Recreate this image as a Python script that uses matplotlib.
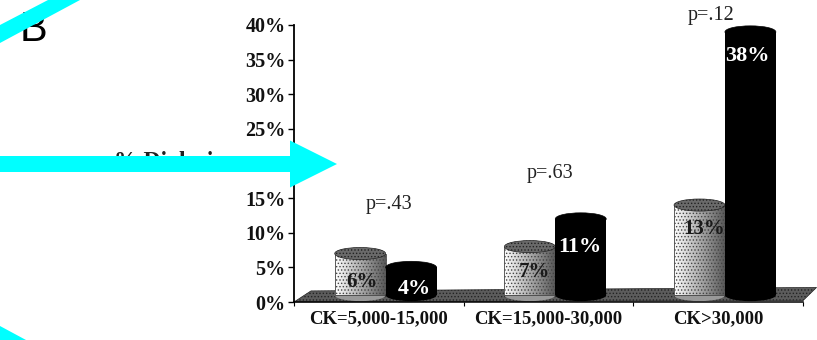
#!/usr/bin/env python3
import matplotlib
matplotlib.use('Agg')
import matplotlib.pyplot as plt
import numpy as np
from matplotlib.patches import Ellipse, Polygon, FancyArrow

categories = ['CK=5,000-15,000', 'CK=15,000-30,000', 'CK>30,000']
light_vals = [6, 7, 13]
dark_vals = [4, 11, 38]
p_labels = ['p=.43', 'p=.63', 'p=.12']
y_ticks = [0, 5, 10, 15, 20, 25, 30, 35, 40]

# where the printed labels sit, in axis units
light_label_y = [2.9, 4.3, 10.6]
dark_label_y = [1.9, 8.0, 35.5]
light_label_x = [0.40, 1.415, 2.42]
dark_label_x = [0.707, 1.685, 2.675]
p_label_y = [14.1, 18.5, 41.3]
p_label_x = [0.56, 1.51, 2.46]

W, H = 817, 340
bar_w = 0.3
cap_h = 1.75
base = 1.0

plt.rcParams['font.family'] = ['Liberation Serif', 'DejaVu Serif']
plt.rcParams['hatch.linewidth'] = 0.6

fig = plt.figure(figsize=(W / 100, H / 100), dpi=100)
ax = fig.add_axes([294 / W, 1 - 302 / H, (803 - 294) / W, (302 - 25) / H])
ax.set_xlim(0, 3)
ax.set_ylim(0, 40)
ax.patch.set_alpha(0)

for s in ['top', 'right']:
    ax.spines[s].set_visible(False)
ax.spines['left'].set_linewidth(1.3)
ax.spines['bottom'].set_linewidth(1.1)

ax.set_yticks(y_ticks)
ax.set_yticklabels(['%d%%' % v for v in y_ticks], fontsize=14.5, fontweight='bold', color='#111111')
ax.tick_params(axis='y', length=4, width=1, pad=2)
ax.set_xticks([0, 1, 2, 3])
ax.set_xticklabels([])
ax.tick_params(axis='x', which='major', length=3, width=0.8)
ax.set_xticks([0.5, 1.5, 2.5], minor=True)
ax.set_xticklabels(categories, minor=True, fontsize=13.5, fontweight='bold', color='#111111')
ax.tick_params(axis='x', which='minor', length=0, pad=6)

# floor of the 3d chart
floor = Polygon([(0, 0), (0.1, 1.6), (3.08, 2.1), (3.0, 0.2)], closed=True, clip_on=False,
                facecolor='#5c5c5c', edgecolor='#222222', hatch='.....', linewidth=0.5, zorder=1)
ax.add_patch(floor)

shade = np.linspace(1.0, 0.35, 64).reshape(1, -1)


def cylinder(x, val, dark, z):
    left = x - bar_w / 2
    col = 'black' if dark else '#6a6a6a'
    ax.add_patch(Ellipse((x, base), bar_w, cap_h, facecolor=col if dark else '#999999',
                         edgecolor='none', clip_on=False, zorder=z))
    bars = ax.bar(x, val, bar_w, bottom=base, color='black', zorder=z, clip_on=False, linewidth=0)
    if not dark:
        im = ax.imshow(shade, extent=(left, left + bar_w, base, base + val), aspect='auto',
                       cmap='gray', vmin=0, vmax=1, zorder=z + 0.1)
        im.set_clip_path(bars[0])
        ax.bar(x, val, bar_w, bottom=base, facecolor='none', edgecolor='#444444', hatch='.....',
               linewidth=0.6, zorder=z + 0.2, clip_on=False)
    ax.add_patch(Ellipse((x, base + val), bar_w, cap_h, facecolor=col, edgecolor='#222222' if not dark else 'black',
                         hatch=None if dark else '.....', linewidth=0.5, clip_on=False, zorder=z + 0.3))


for i in range(3):
    xc = i + 0.54
    cylinder(xc - bar_w / 2, light_vals[i], False, 2)
    ax.text(light_label_x[i], light_label_y[i], '%d%%' % light_vals[i], ha='center', va='center',
            fontsize=15, fontweight='bold', color='#1a1a1a', zorder=3)
    cylinder(xc + bar_w / 2, dark_vals[i], True, 4)
    ax.text(dark_label_x[i], dark_label_y[i], '%d%%' % dark_vals[i], ha='center', va='center',
            fontsize=16, fontweight='bold', color='white', zorder=5)
    ax.text(p_label_x[i], p_label_y[i], p_labels[i], ha='center', va='center',
            fontsize=14.5, color='#222222', clip_on=False, zorder=5)

ax.set_xlim(0, 3)
ax.set_ylim(0, 40)

# overlay in pixel coordinates: panel letter, axis title and the cyan arrows on top
ov = fig.add_axes([0, 0, 1, 1])
ov.set_xlim(0, W)
ov.set_ylim(H, 0)
ov.axis('off')
ov.patch.set_alpha(0)
ov.text(20, 41, 'B', fontsize=30, family='Liberation Sans', color='black', va='baseline', ha='left')
ov.text(168, 167, '% Dialysis', fontsize=17, fontweight='bold', color='#222222', va='baseline', ha='center')

cyan = '#00ffff'
ov.add_patch(FancyArrow(0, 164, 337, 0, width=16, head_width=47, head_length=47,
                        length_includes_head=True, color=cyan, linewidth=0, zorder=10))
ov.add_patch(Polygon([(0, 25), (48, 0), (80, 0), (0, 43)], closed=True, color=cyan, linewidth=0, zorder=10))
ov.add_patch(Polygon([(0, 326), (0, 340), (26, 340)], closed=True, color=cyan, linewidth=0, zorder=10))

fig.savefig('out.png', dpi=100)
